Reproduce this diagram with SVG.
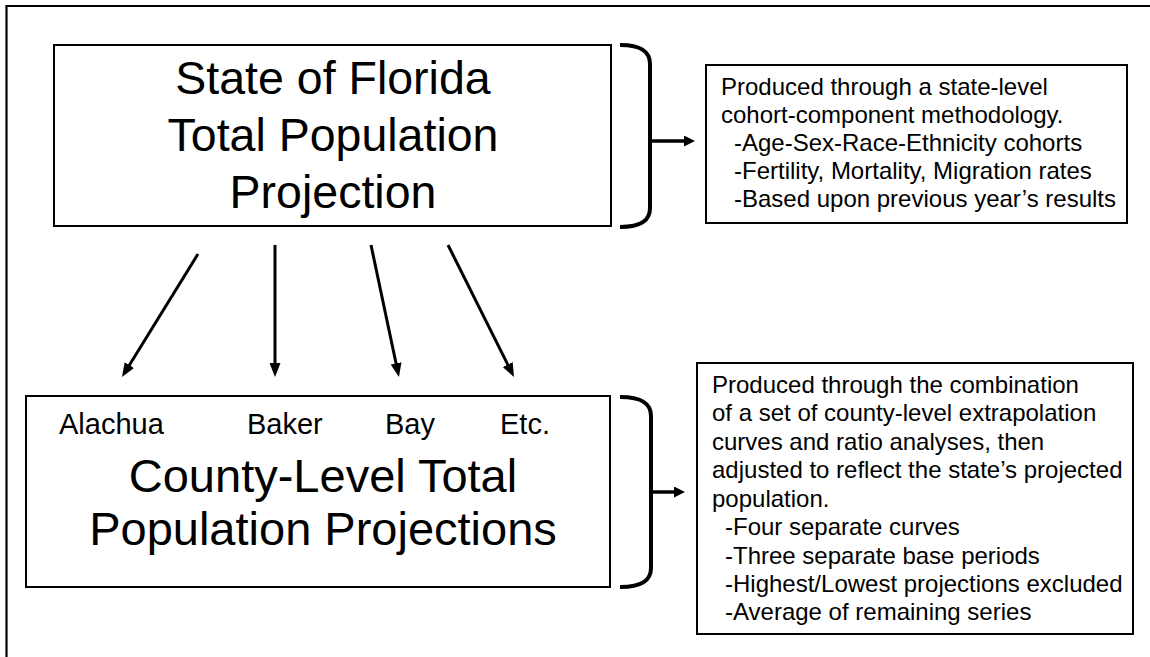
<svg xmlns="http://www.w3.org/2000/svg" width="1150" height="657" viewBox="0 0 1150 657">
  <style>
    .box { fill: #ffffff; stroke: #000000; stroke-width: 2; }
    .title { font-family: "Liberation Sans", Arial, sans-serif; fill: #000; text-anchor: middle; }
    .label { font-family: "Liberation Sans", Arial, sans-serif; fill: #000; font-size: 29px; }
    .note { font-family: "Liberation Sans", Arial, sans-serif; fill: #000; font-size: 24px; }
    .arrow { fill: none; stroke: #000; stroke-width: 3; }
    .brace { fill: none; stroke: #000; stroke-width: 4; }
    .side { fill: none; stroke: #000; stroke-width: 3.5; }
  </style>
  <defs>
    <marker id="head" markerUnits="userSpaceOnUse" markerWidth="14" markerHeight="11" refX="6" refY="5.5" orient="auto">
      <path d="M0,0 L14,5.5 L0,11 z" fill="#000"/>
    </marker>
    <marker id="headS" markerUnits="userSpaceOnUse" markerWidth="11" markerHeight="11" refX="5" refY="5.5" orient="auto">
      <path d="M0,0 L11,5.5 L0,11 z" fill="#000"/>
    </marker>
  </defs>
  <rect x="0" y="0" width="1150" height="657" fill="#ffffff"/>
  <path d="M6.5,657 L6.5,6 L1150,6" fill="none" stroke="#000" stroke-width="2.2"/>

  <g id="state-projection">
    <rect class="box" x="54" y="45" width="557" height="181"/>
    <text class="title" font-size="46.5" x="333" y="94">State of Florida</text>
    <text class="title" font-size="46.5" x="333" y="151">Total Population</text>
    <text class="title" font-size="46.5" x="333" y="208">Projection</text>
  </g>

  <g id="county-projections">
    <rect class="box" x="26" y="396" width="584" height="191"/>
    <text class="label" x="59" y="434">Alachua</text>
    <text class="label" x="247" y="434">Baker</text>
    <text class="label" x="385" y="434">Bay</text>
    <text class="label" x="500" y="434">Etc.</text>
    <text class="title" font-size="47" x="323" y="492">County-Level Total</text>
    <text class="title" font-size="47" x="323" y="545">Population Projections</text>
  </g>

  <g id="state-note">
    <rect class="box" x="706" y="65" width="421" height="158"/>
    <text class="note" x="721" y="95">Produced through a state-level</text>
    <text class="note" x="721" y="123">cohort-component methodology.</text>
    <text class="note" x="734" y="151">-Age-Sex-Race-Ethnicity cohorts</text>
    <text class="note" x="734" y="179">-Fertility, Mortality, Migration rates</text>
    <text class="note" x="734" y="207">-Based upon previous year’s results</text>
  </g>

  <g id="county-note">
    <rect class="box" x="697" y="363" width="436" height="271"/>
    <text class="note" x="712" y="393">Produced through the combination</text>
    <text class="note" x="712" y="421">of a set of county-level extrapolation</text>
    <text class="note" x="712" y="450">curves and ratio analyses, then</text>
    <text class="note" x="712" y="478">adjusted to reflect the state’s projected</text>
    <text class="note" x="712" y="507">population.</text>
    <text class="note" x="725" y="535">-Four separate curves</text>
    <text class="note" x="725" y="564">-Three separate base periods</text>
    <text class="note" x="725" y="592">-Highest/Lowest projections excluded</text>
    <text class="note" x="725" y="620">-Average of remaining series</text>
  </g>

  <g id="connectors">
    <line class="arrow" x1="198" y1="254" x2="126.2" y2="370.2" marker-end="url(#head)"/>
    <line class="arrow" x1="275" y1="245" x2="275" y2="369" marker-end="url(#head)"/>
    <line class="arrow" x1="371" y1="245" x2="397.3" y2="369.2" marker-end="url(#head)"/>
    <line class="arrow" x1="448" y1="245" x2="510.4" y2="369.9" marker-end="url(#head)"/>

    <path class="brace" d="M620,45 C642,45 650,52 650,64 L650,208 C650,220 642,227 620,227"/>
    <line class="side" x1="650" y1="141" x2="689" y2="141" marker-end="url(#headS)"/>

    <path class="brace" d="M620,397 C643,397 651,404 651,416 L651,568 C651,580 643,587 620,587"/>
    <line class="side" x1="651" y1="492" x2="679" y2="492" marker-end="url(#headS)"/>
  </g>
</svg>
